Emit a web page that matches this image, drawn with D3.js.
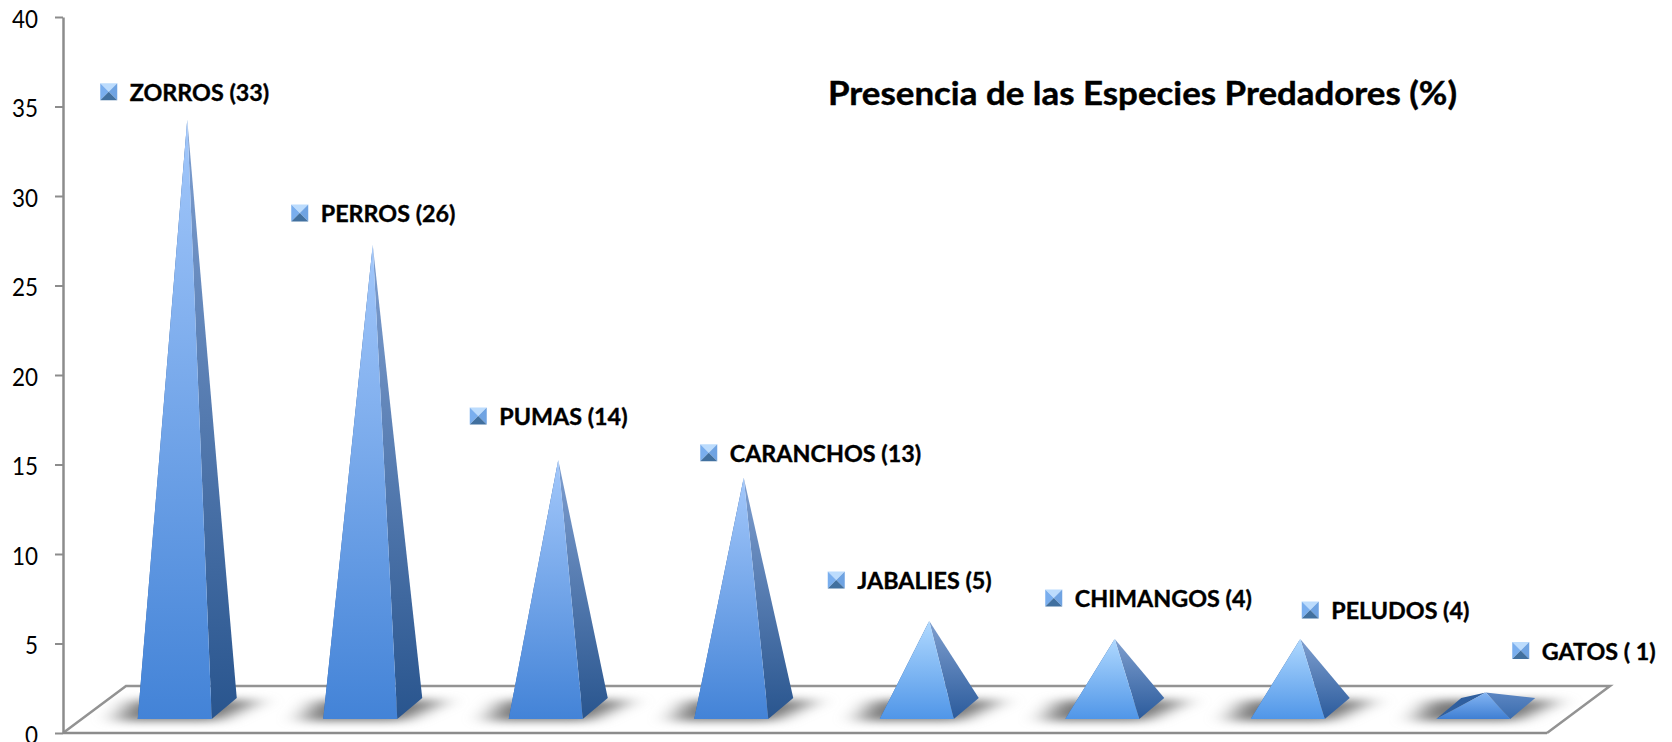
<!DOCTYPE html>
<html>
<head>
<meta charset="utf-8">
<script src="https://cdn.jsdelivr.net/npm/d3@7"></script>
<style>
  html, body { margin: 0; padding: 0; background: #fff; overflow: hidden; }
  text { font-family: Lato, "Noto Sans", sans-serif; fill: #000; }
</style>
</head>
<body>
<div id="chart"></div>
<script>
const categories = ["ZORROS", "PERROS", "PUMAS", "CARANCHOS", "JABALIES", "CHIMANGOS", "PELUDOS", "GATOS"];
const values = [33, 26, 14, 13, 5, 4, 4, 1];
const labels = ["ZORROS (33)", "PERROS (26)", "PUMAS (14)", "CARANCHOS (13)", "JABALIES (5)", "CHIMANGOS (4)", "PELUDOS (4)", "GATOS ( 1)"];
const yTicks = [0, 5, 10, 15, 20, 25, 30, 35, 40];
const titleText = "Presencia de las Especies Predadores (%)";

// where each hand placed label sits, relative to the tip of its pyramid
const labelDx = [-78.5, -73, -80, -35, -93, -61, 10, 35];
const labelDy = [-28, -32, -44, -25, -41, -41, -29, -42];

const width = 1672, height = 742;
const plot = {left: 63, right: 1547, top: 17, bottom: 733};
const floorDepth = {x: 63, y: 47};   // slant of the floor
const bar = {inset: 19, rise: 14, width: 74, depthX: 25, depthY: 21, tipLift: 22.5};

const svg = d3.select("#chart").append("svg")
    .attr("width", width)
    .attr("height", height)
    .style("display", "block");

const x = d3.scaleBand().domain(categories).range([plot.left, plot.right]);
const y = d3.scaleLinear().domain([0, 40]).range([plot.bottom, plot.top]);

const defs = svg.append("defs");

function gradient(id, top, bottom) {
    const g = defs.append("linearGradient").attr("id", id)
        .attr("x1", 0).attr("y1", 0).attr("x2", 0).attr("y2", 1);
    g.append("stop").attr("offset", 0).attr("stop-color", top);
    g.append("stop").attr("offset", 1).attr("stop-color", bottom);
}
gradient("frontTall", "#a3c8fb", "#4383d7");
gradient("sideTall", "#7f9fd0", "#29558e");
gradient("frontSmall", "#b0d9ff", "#5096e8");
gradient("sideSmall", "#7f9fcf", "#2b5b9c");
gradient("frontLow", "#84b5f3", "#3f7fd3");
gradient("sideLow", "#5c86c2", "#3a6cae");

defs.append("filter").attr("id", "shadowBlur")
    .attr("filterUnits", "userSpaceOnUse")
    .attr("x", 0).attr("y", 660).attr("width", width).attr("height", 82)
    .attr("color-interpolation-filters", "sRGB")
    .append("feGaussianBlur").attr("stdDeviation", "12 4");

// floor
const floor = svg.append("g");
floor.append("path")
    .attr("d", d3.line()([
        [plot.left, plot.bottom],
        [plot.left + floorDepth.x, plot.bottom - floorDepth.y],
        [plot.right + floorDepth.x, plot.bottom - floorDepth.y],
        [plot.right, plot.bottom]
    ]))
    .attr("fill", "none")
    .attr("stroke", "#939393")
    .attr("stroke-width", 2.5);

// y axis
const yAxis = svg.append("g")
    .attr("transform", `translate(${plot.left},0)`)
    .call(d3.axisLeft(y).tickValues(yTicks).tickSize(8).tickPadding(17).tickSizeOuter(0));
yAxis.selectAll("line").attr("stroke", "#8c8c8c").attr("stroke-width", 2);
yAxis.select(".domain").attr("stroke", "#8c8c8c").attr("stroke-width", 2.5);
yAxis.selectAll("text")
    .style("font-family", "Lato")
    .style("font-size", "25px")
    .attr("dy", "0.4em")
    .attr("fill", "#000")
    .attr("lengthAdjust", "spacingAndGlyphs")
    .attr("textLength", d => String(d).length * 13);

svg.append("line")
    .attr("x1", plot.left).attr("x2", plot.right)
    .attr("y1", plot.bottom).attr("y2", plot.bottom)
    .attr("stroke", "#8c8c8c").attr("stroke-width", 2.5);

const dataset = categories.map((c, i) => ({
    name: c, value: values[i], label: labels[i], dx: labelDx[i], dy: labelDy[i]
}));

// all corners of one pyramid, taken from the scales
function corners(d) {
    const x0 = x(d.name) + x.bandwidth() / 2 + bar.inset - bar.width / 2;
    const x1 = x0 + bar.width;
    const base = y(0) - bar.rise;
    return {
        fl: [x0, base],
        fr: [x1, base],
        br: [x1 + bar.depthX, base - bar.depthY],
        bl: [x0 + bar.depthX, base - bar.depthY],
        tip: [(x0 + x1 + bar.depthX) / 2, y(d.value) - bar.tipLift]
    };
}

const poly = d3.line();
const style = d => d.value >= 10 ? "Tall" : d.value >= 3 ? "Small" : "Low";

// shadows on the floor go under everything
svg.append("g").selectAll("path")
    .data(dataset)
    .enter().append("path")
    .attr("d", d => {
        const c = corners(d);
        return poly([
            [c.fl[0] - 22, c.fl[1] + 2],
            [c.fr[0] + 6, c.fr[1] + 2],
            [c.br[0] + 24, c.br[1] + 2],
            [c.bl[0] - 30, c.bl[1] + 2]
        ]) + "Z";
    })
    .attr("fill", "#777")
    .attr("filter", "url(#shadowBlur)");

const pyramids = svg.append("g").selectAll("g")
    .data(dataset)
    .enter().append("g");

pyramids.append("path")
    .attr("d", d => {
        const c = corners(d);
        return poly([c.fl, c.bl, c.tip]) + "Z";
    })
    .attr("fill", "#2f5f9f");

pyramids.append("path")
    .attr("d", d => {
        const c = corners(d);
        return poly([c.tip, c.fr, c.br]) + "Z";
    })
    .attr("fill", d => `url(#side${style(d)})`);

pyramids.append("path")
    .attr("d", d => {
        const c = corners(d);
        return poly([c.tip, c.fl, c.fr]) + "Z";
    })
    .attr("fill", d => `url(#front${style(d)})`);

// labels with the small bevelled marker
const labelGroups = svg.append("g").selectAll("g")
    .data(dataset)
    .enter().append("g")
    .attr("transform", d => {
        const c = corners(d);
        return `translate(${c.tip[0] + d.dx},${c.tip[1] + d.dy})`;
    });

const m = 8.5;
const facets = [
    {pts: [[-m, -m], [m, -m], [0, 0]], fill: "#bcdcfd"},
    {pts: [[-m, -m], [-m, m], [0, 0]], fill: "#79aeee"},
    {pts: [[m, -m], [m, m], [0, 0]], fill: "#6fa3e2"},
    {pts: [[-m, m], [m, m], [0, 0]], fill: "#41709f"}
];
facets.forEach(f => {
    labelGroups.append("path").attr("d", poly(f.pts) + "Z").attr("fill", f.fill);
});

labelGroups.append("text")
    .attr("x", 21)
    .attr("y", 9)
    .attr("font-size", "22px")
    .attr("font-weight", "bold")
    .attr("stroke", "#000")
    .attr("stroke-width", 0.35)
    .attr("lengthAdjust", "spacingAndGlyphs")
    .text(d => d.label)
    .attr("textLength", function () { return this.getComputedTextLength() * 1.06; });

svg.append("text")
    .attr("x", 828)
    .attr("y", 105)
    .attr("font-size", "32px")
    .attr("font-weight", "bold")
    .attr("stroke", "#000")
    .attr("stroke-width", 0.4)
    .attr("lengthAdjust", "spacingAndGlyphs")
    .attr("textLength", 629)
    .text(titleText);
</script>
</body>
</html>
